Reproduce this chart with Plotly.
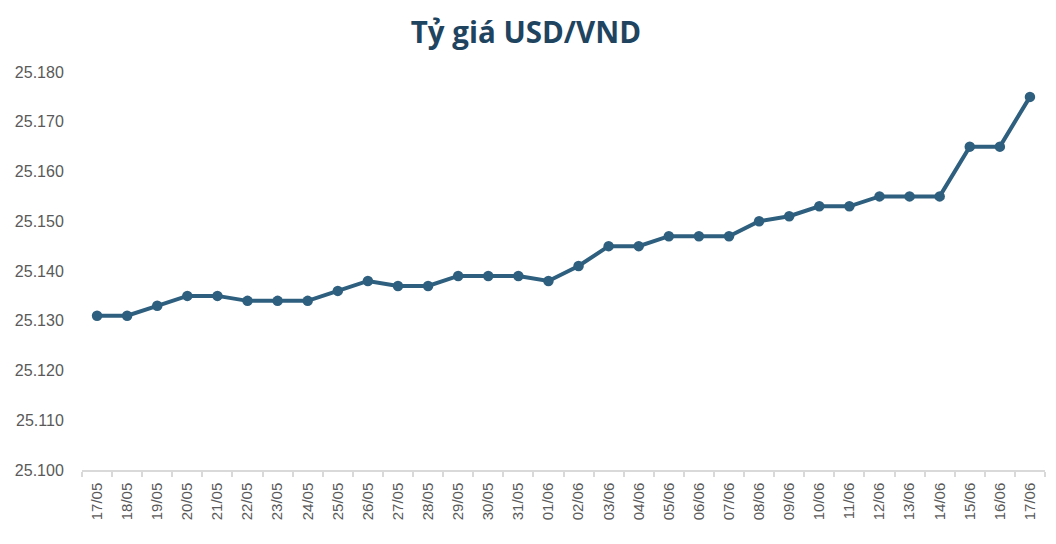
import plotly.graph_objects as go

dates = ["17/05", "18/05", "19/05", "20/05", "21/05", "22/05", "23/05", "24/05",
         "25/05", "26/05", "27/05", "28/05", "29/05", "30/05", "31/05", "01/06",
         "02/06", "03/06", "04/06", "05/06", "06/06", "07/06", "08/06", "09/06",
         "10/06", "11/06", "12/06", "13/06", "14/06", "15/06", "16/06", "17/06"]
rates = [25131, 25131, 25133, 25135, 25135, 25134, 25134, 25134,
         25136, 25138, 25137, 25137, 25139, 25139, 25139, 25138,
         25141, 25145, 25145, 25147, 25147, 25147, 25150, 25151,
         25153, 25153, 25155, 25155, 25155, 25165, 25165, 25175]
y_ticks = [25100, 25110, 25120, 25130, 25140, 25150, 25160, 25170, 25180]

fig = go.Figure(go.Scatter(
    x=dates, y=rates, mode="lines+markers",
    line=dict(color="#2E5F7E", width=4),
    marker=dict(color="#2E5F7E", size=10.5),
    hoverinfo="x+y",
))

# page body has an 8px default margin; size the figure to compensate
fig.update_layout(
    width=1040, height=528,
    paper_bgcolor="white", plot_bgcolor="white",
    separators=",.",
    margin=dict(l=74, r=3, t=64, b=66, autoexpand=False),
    title=dict(text="<b>Tỷ giá USD/VND</b>", x=0.498, xanchor="center",
               y=0.953, yanchor="middle",
               font=dict(family="Open Sans", size=29.5, color="#1F4460")),
    showlegend=False,
    font=dict(family="Liberation Sans, Arial, sans-serif", size=16, color="#595959"),
)
fig.update_xaxes(
    type="category", range=[-0.5, len(dates) - 0.5],
    tickangle=-90, showgrid=False, automargin=False,
    showline=True, linecolor="#D9D9D9", linewidth=1.5,
    ticks="outside", tickson="boundaries", ticklen=5, tickcolor="#D9D9D9", tickwidth=1.5,
    ticklabelstandoff=5,
    tickfont=dict(size=15, color="#595959"),
)
fig.update_yaxes(
    range=[25100, 25180], tickvals=y_ticks, tickformat=",d", automargin=False,
    showgrid=False, zeroline=False, showline=False,
    ticks="outside", ticklen=14, tickcolor="rgba(0,0,0,0)",
    tickfont=dict(size=16, color="#595959"),
)

fig.write_html("out.html")
